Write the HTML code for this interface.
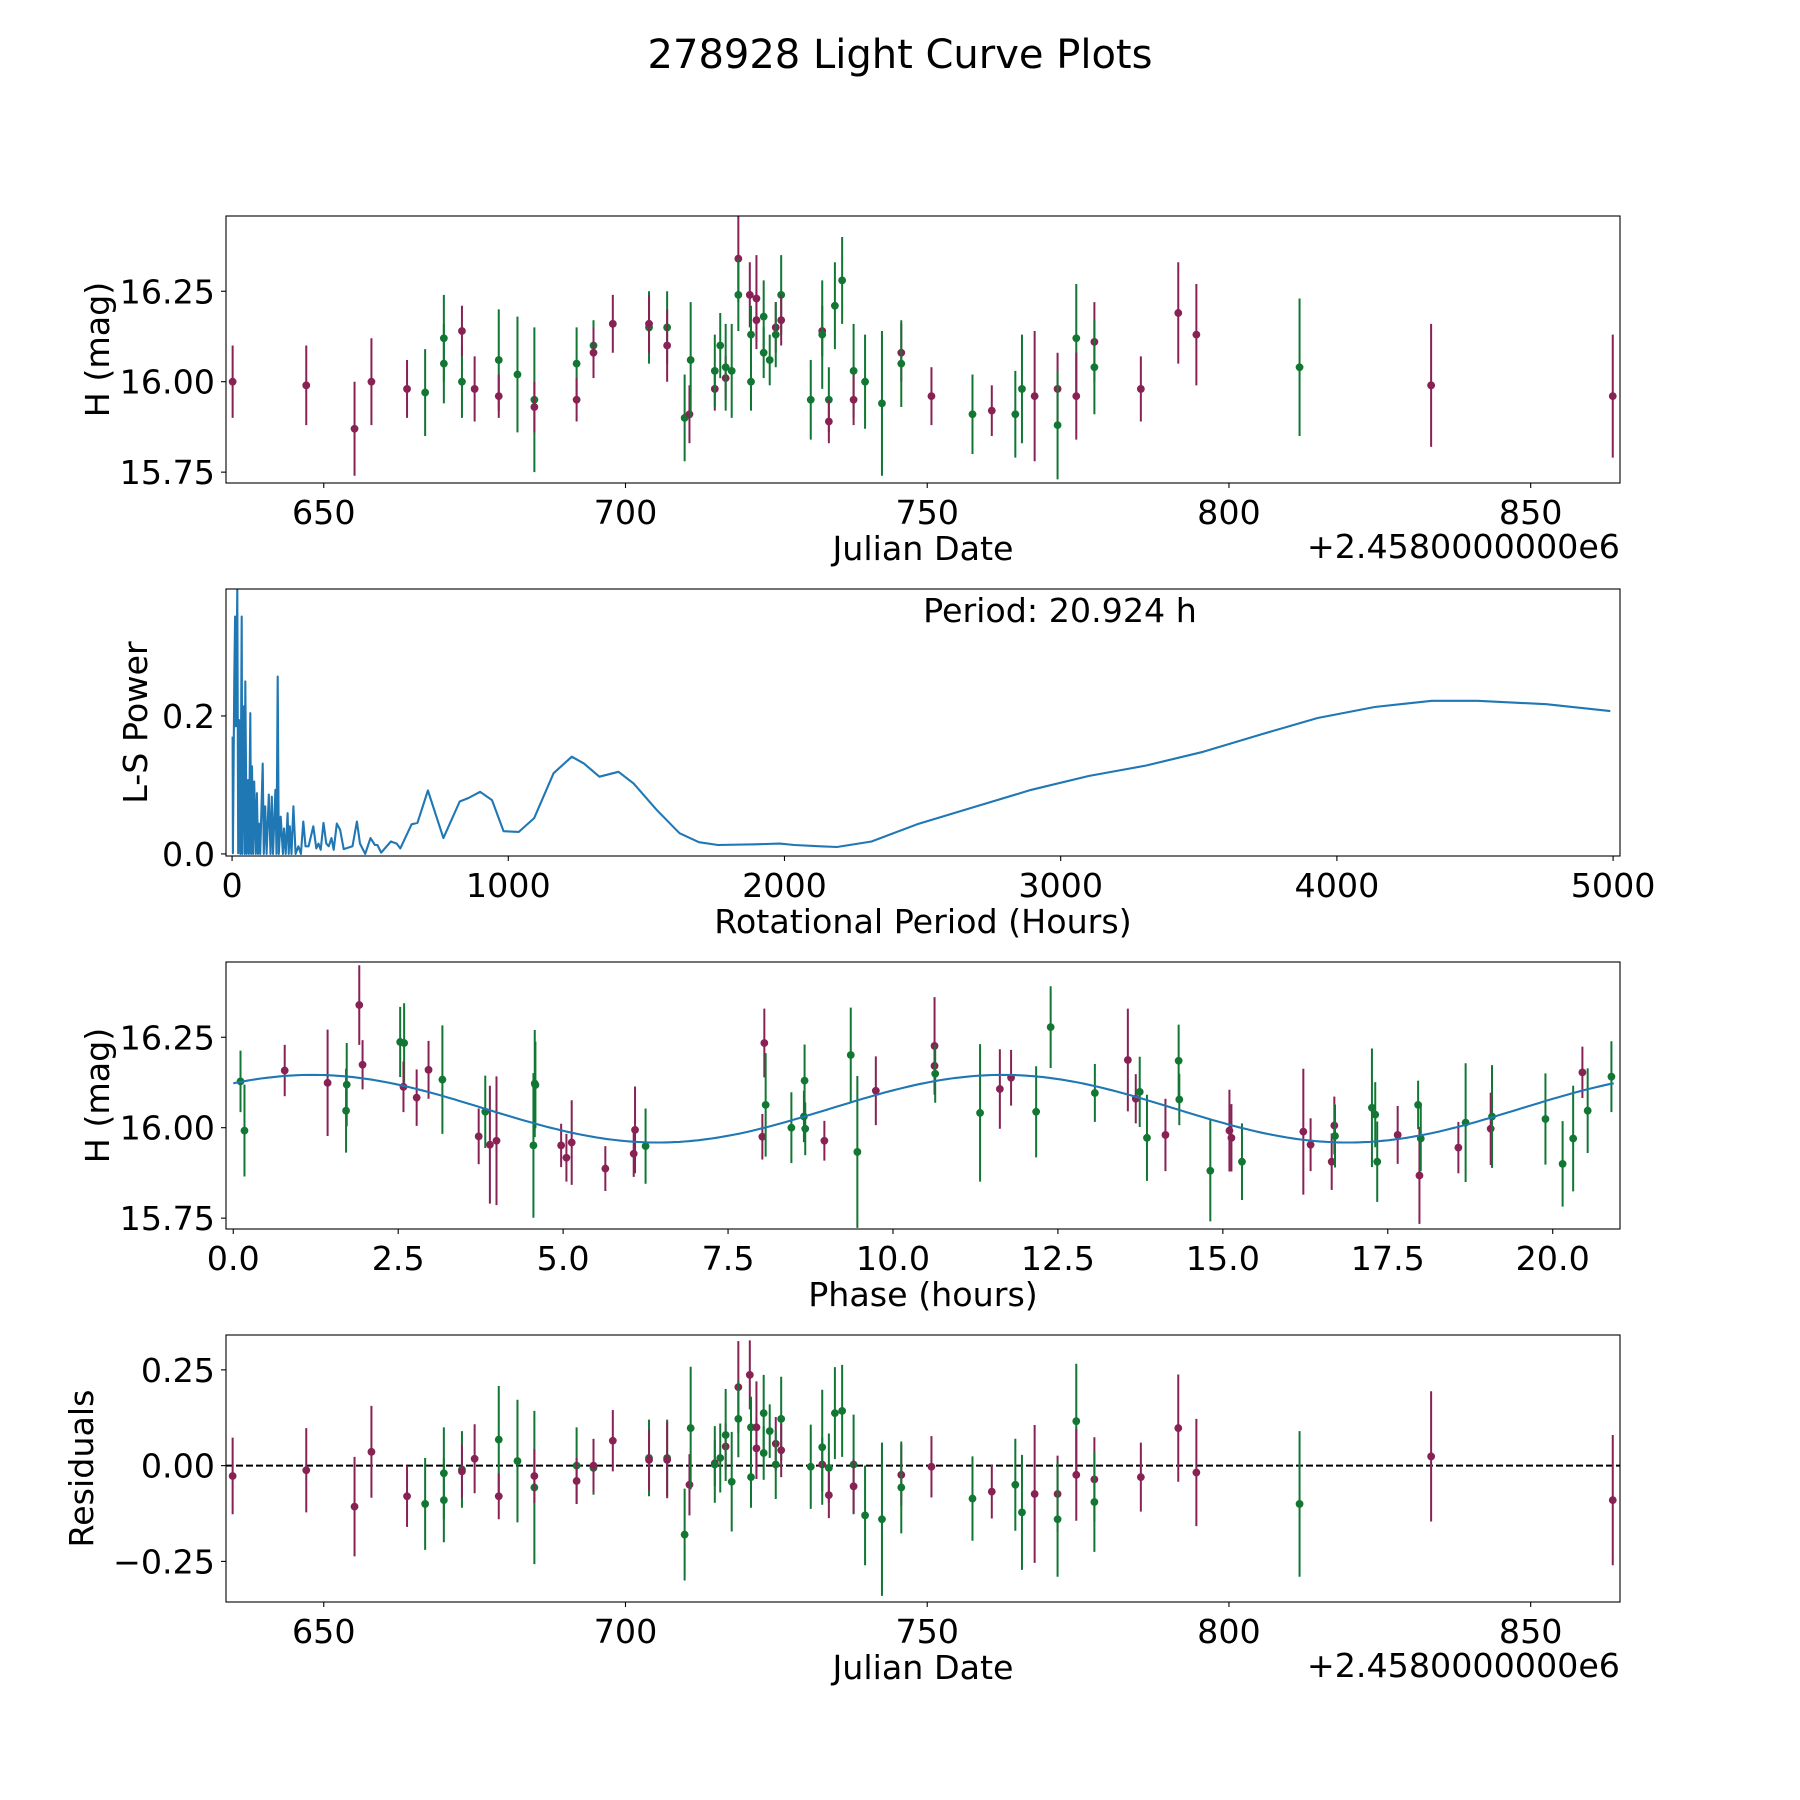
<!DOCTYPE html>
<html><head><meta charset="utf-8"><style>
html,body{margin:0;padding:0;background:#fff;}
svg{display:block;font-family:"DejaVu Sans","Liberation Sans",sans-serif;}
</style></head><body>
<svg id="fig" width="1800" height="1800" viewBox="0 0 1800 1800" xmlns="http://www.w3.org/2000/svg">
<rect width="1800" height="1800" fill="#fff"/>
<text x="900" y="68" font-size="40" text-anchor="middle">278928 Light Curve Plots</text>
</svg>
<script>
const jd=[634.9,647.1,655.1,657.9,663.8,666.8,669.9,669.9,672.9,672.9,675.0,679.0,679.0,682.1,684.9,684.9,691.9,691.9,694.7,694.7,697.9,703.9,703.9,706.9,706.9,709.8,710.6,710.8,714.8,714.8,715.7,716.6,716.6,717.6,718.7,718.7,720.6,720.8,720.8,721.7,721.7,722.9,722.9,723.9,724.9,724.9,725.8,725.8,730.7,732.6,732.6,733.7,733.7,734.7,735.9,737.8,737.8,739.7,742.5,745.7,745.7,750.7,757.5,760.7,764.6,765.7,767.8,771.6,771.6,774.7,774.7,777.7,777.7,785.4,791.6,794.6,811.7,833.5,863.6];
const mag=[16.00,15.99,15.87,16.00,15.98,15.97,16.12,16.05,16.00,16.14,15.98,16.06,15.96,16.02,15.95,15.93,16.05,15.95,16.10,16.08,16.16,16.15,16.16,16.15,16.10,15.90,15.91,16.06,15.98,16.03,16.10,16.01,16.04,16.03,16.34,16.24,16.24,16.13,16.00,16.23,16.17,16.18,16.08,16.06,16.15,16.13,16.24,16.17,15.95,16.14,16.13,15.95,15.89,16.21,16.28,16.03,15.95,16.00,15.94,16.08,16.05,15.96,15.91,15.92,15.91,15.98,15.96,15.98,15.88,16.12,15.96,16.11,16.04,15.98,16.19,16.13,16.04,15.99,15.96];
const magErr=[0.10,0.11,0.13,0.12,0.08,0.12,0.12,0.11,0.10,0.07,0.09,0.14,0.06,0.16,0.20,0.07,0.10,0.06,0.07,0.07,0.08,0.10,0.08,0.10,0.10,0.12,0.08,0.16,0.06,0.10,0.09,0.06,0.12,0.13,0.12,0.10,0.09,0.08,0.08,0.12,0.08,0.10,0.07,0.07,0.07,0.09,0.11,0.07,0.11,0.07,0.15,0.09,0.06,0.12,0.12,0.13,0.07,0.13,0.20,0.08,0.12,0.08,0.11,0.07,0.12,0.15,0.18,0.10,0.15,0.15,0.12,0.11,0.13,0.09,0.14,0.14,0.19,0.17,0.17];
const band=[0,0,0,0,0,1,1,1,1,0,0,1,0,1,1,0,1,0,1,0,0,1,0,1,0,1,0,1,0,1,1,0,1,1,0,1,0,1,1,0,0,1,1,1,0,1,1,0,1,0,1,1,0,1,1,1,0,1,1,0,1,0,1,0,1,1,0,0,1,1,0,0,1,0,0,0,1,0,0];
const resid=[-0.027,-0.012,-0.107,0.036,-0.08,-0.10,-0.02,-0.09,-0.01,-0.015,0.018,0.068,-0.08,0.012,-0.057,-0.027,0.0,-0.04,-0.006,0.0,0.065,0.02,0.015,0.02,0.015,-0.18,-0.05,0.098,0.006,0.003,0.02,0.05,0.08,-0.042,0.205,0.122,0.237,0.10,-0.03,0.10,0.045,0.137,0.033,0.09,0.057,0.003,0.122,0.04,-0.003,0.003,0.048,-0.006,-0.077,0.137,0.143,0.003,-0.054,-0.13,-0.14,-0.024,-0.057,-0.003,-0.086,-0.068,-0.05,-0.122,-0.074,-0.074,-0.14,0.116,-0.024,-0.036,-0.095,-0.03,0.098,-0.018,-0.10,0.024,-0.09];
const phase=[0.11,0.17,0.78,1.43,1.72,1.71,1.91,1.96,2.53,2.59,2.58,2.78,2.96,3.17,3.72,3.82,3.89,3.99,4.57,4.58,4.55,4.97,5.05,5.13,5.64,6.07,6.09,6.25,8.02,8.05,8.07,8.46,8.65,8.66,8.67,8.96,9.36,9.46,9.74,10.63,10.63,10.64,11.32,11.62,11.79,12.17,12.39,13.06,13.56,13.68,13.74,13.85,14.13,14.33,14.34,14.81,15.10,15.13,15.29,16.22,16.33,16.65,16.69,16.70,17.26,17.31,17.34,17.65,17.96,17.98,18.00,18.57,18.68,19.06,19.08,19.89,20.15,20.31,20.45,20.53,20.89];
const phaseMag=[16.128,15.992,16.158,16.124,16.119,16.047,16.339,16.174,16.237,16.234,16.113,16.083,16.160,16.133,15.976,16.044,15.953,15.964,16.122,16.118,15.951,15.951,15.917,15.959,15.887,15.928,15.994,15.949,15.975,16.234,16.063,16.000,16.031,16.130,15.997,15.964,16.201,15.933,16.102,16.226,16.171,16.149,16.041,16.107,16.138,16.044,16.278,16.096,16.187,16.080,16.099,15.972,15.980,16.185,16.078,15.881,15.992,15.972,15.906,15.989,15.953,15.906,16.006,15.977,16.055,16.036,15.906,15.980,16.063,15.868,15.970,15.945,16.014,15.997,16.031,16.024,15.900,15.970,16.153,16.047,16.141];
const phaseErr=[0.085,0.127,0.071,0.147,0.115,0.116,0.11,0.068,0.097,0.11,0.07,0.078,0.08,0.15,0.077,0.1,0.163,0.178,0.148,0.12,0.2,0.06,0.066,0.117,0.062,0.064,0.12,0.104,0.063,0.095,0.143,0.098,0.071,0.1,0.073,0.055,0.131,0.21,0.095,0.135,0.07,0.08,0.19,0.11,0.077,0.126,0.113,0.08,0.142,0.068,0.097,0.119,0.1,0.1,0.071,0.14,0.113,0.093,0.106,0.174,0.073,0.078,0.08,0.087,0.164,0.09,0.111,0.08,0.067,0.134,0.09,0.071,0.164,0.1,0.142,0.126,0.118,0.146,0.071,0.117,0.098];
const phaseBand=[1,1,0,0,1,1,0,0,1,1,0,0,0,1,0,1,0,0,1,1,1,0,0,0,0,0,0,1,0,0,1,1,1,1,1,0,1,1,0,0,0,1,1,0,0,1,1,1,0,0,1,1,0,1,1,1,0,0,1,0,0,0,0,1,1,1,1,0,1,0,1,0,1,0,1,1,1,1,0,1,1];
const modelParams=[16.0525,0.0935,1.2,20.924];
const lsPeriod=[2,3,8,11,14,19,22,25,30,35,37,42,46,48,53,58,61,66,69,72,76,80,86,90,94,97,102,111,115,120,125,133,139,144,148,157,161,165,169,176,184,188,194,201,205,209,215,222,230,240,249,258,266,277,294,305,313,321,331,341,350,360,368,379,391,404,436,452,463,482,501,517,526,540,575,596,609,650,671,709,765,824,856,898,941,983,1038,1094,1164,1230,1274,1330,1399,1454,1537,1620,1690,1759,1897,1983,2036,2130,2190,2315,2480,2687,2894,3101,3308,3516,3723,3930,4137,4344,4509,4758,4990];
const lsPower=[0.170,0.001,0.257,0.344,0.185,0.383,0.001,0.194,0,0.344,0,0.214,0,0.25,0,0.107,0,0.204,0,0.127,0,0.105,0,0.088,0,0.044,0,0.131,0,0.069,0,0.086,0,0.083,0,0.093,0,0.257,0,0.054,0,0.037,0,0.059,0,0.040,0,0.069,0,0.011,0,0.047,0.011,0.011,0.040,0.008,0.015,0.006,0.045,0.015,0.011,0.023,0.006,0.044,0.035,0.007,0.011,0.047,0.015,0,0.023,0.013,0.013,0.002,0.018,0.015,0.008,0.043,0.045,0.092,0.023,0.076,0.081,0.090,0.078,0.033,0.032,0.052,0.117,0.141,0.131,0.112,0.119,0.102,0.064,0.030,0.017,0.013,0.014,0.015,0.013,0.011,0.010,0.018,0.043,0.068,0.093,0.113,0.128,0.148,0.173,0.197,0.213,0.222,0.222,0.217,0.207];
const jdTicks=[650,700,750,800,850];
const magTicks=[15.75,16.00,16.25];
const magTickLabels=["15.75","16.00","16.25"];
const lsXTicks=[0,1000,2000,3000,4000,5000];
const lsYTicks=[0.0,0.2];
const lsYTickLabels=["0.0","0.2"];
const phaseTicks=[0,2.5,5,7.5,10,12.5,15,17.5,20];
const phaseTickLabels=["0.0","2.5","5.0","7.5","10.0","12.5","15.0","17.5","20.0"];
const residTicks=[-0.25,0,0.25];
const residTickLabels=["\u22120.25","0.00","0.25"];

const NS="http://www.w3.org/2000/svg";
const svg=document.getElementById('fig');
const COL=['#882255','#117733'];
const FS=33.3;
function mk(tag,attrs,parent){const e=document.createElementNS(NS,tag);for(const k in attrs)e.setAttribute(k,attrs[k]);(parent||svg).appendChild(e);return e;}
const L=226,R=1620;
function scale(d0,d1,p0,p1){return v=>p0+(v-d0)*(p1-p0)/(d1-d0);}
function axes(name,top,bot,xs,ys,xt,xtl,yt,ytl,xlabel,ylabel,ylabelX){
  const g=mk('g',{});
  
  
  xt.forEach((v,i)=>{const x=xs(v);
    const t=mk('line',{x1:x,x2:x,y1:bot,y2:bot+5,stroke:'#000','stroke-width':1.1},g);
    
    const tx=mk('text',{x:x,y:bot+41,'font-size':FS,'text-anchor':'middle'},g);tx.textContent=xtl[i];
    });
  yt.forEach((v,i)=>{const y=ys(v);
    const t=mk('line',{x1:L-5,x2:L,y1:y,y2:y,stroke:'#000','stroke-width':1.1},g);
    
    const tx=mk('text',{x:L-11,y:y+12,'font-size':FS,'text-anchor':'end'},g);tx.textContent=ytl[i];
    });
  const xl=mk('text',{x:923,y:bot+77,'font-size':FS,'text-anchor':'middle'},g);xl.textContent=xlabel;
  
  const cy=(top+bot)/2;
  const yl=mk('text',{x:ylabelX,y:cy,'font-size':FS,'text-anchor':'middle',transform:`rotate(-90 ${ylabelX} ${cy})`},g);yl.textContent=ylabel;
  
  return g;
}
function frame(top,bot){const f=mk('rect',{x:L,y:top,width:R-L,height:bot-top,fill:'none',stroke:'#000','stroke-width':1.1});
  }
function clip(id,top,bot){const c=mk('clipPath',{id:id});mk('rect',{x:L,y:top,width:R-L,height:bot-top},c);}
function errPoints(gname,xs,ys,X,Y,E,B,clipId){
  const g=mk('g',{'clip-path':`url(#${clipId})`});
  
  X.forEach((xv,i)=>{const x=xs(xv),c=COL[B[i]];
    const ln=mk('line',{x1:x,x2:x,y1:ys(Y[i]-E[i]),y2:ys(Y[i]+E[i]),stroke:c,'stroke-width':2},g);
    
    const d=mk('circle',{cx:x,cy:ys(Y[i]),r:3.9,fill:c},g);
    });
}
const jdX=scale(633.8,864.8,L,R);

const t1=216,b1=483,y1=scale(15.72,16.458,b1,t1);
clip('c1',t1,b1);
axes('light-curve-axes',t1,b1,jdX,y1,jdTicks,jdTicks.map(String),magTicks,magTickLabels,'Julian Date','H (mag)',109);
errPoints('light-curve-points',jdX,y1,jd,mag,magErr,band,'c1');
frame(t1,b1);
const off1=mk('text',{x:R,y:b1+75,'font-size':FS,'text-anchor':'end'});off1.textContent='+2.4580000000e6';


const t2=589,b2=856,lx=scale(-22,5025,L,R),ly=scale(-0.003,0.384,b2,t2);
clip('c2',t2,b2);
axes('periodogram-axes',t2,b2,lx,ly,lsXTicks,lsXTicks.map(String),lsYTicks,lsYTickLabels,'Rotational Period (Hours)','L-S Power',147);
const lsPath=mk('path',{d:lsPeriod.map((p,i)=>(i?'L':'M')+lx(p).toFixed(1)+' '+ly(lsPower[i]).toFixed(1)).join(' '),fill:'none',stroke:'#1f77b4','stroke-width':2.1,'stroke-linejoin':'round','clip-path':'url(#c2)'});

frame(t2,b2);
const per=mk('text',{x:1060,y:622,'font-size':FS,'text-anchor':'middle'});per.textContent='Period: 20.924 h';


const t3=962,b3=1229,px=scale(-0.11,21.02,L,R),py=scale(15.72,16.458,b3,t3);
clip('c3',t3,b3);
axes('phase-axes',t3,b3,px,py,phaseTicks,phaseTickLabels,magTicks,magTickLabels,'Phase (hours)','H (mag)',109);
errPoints('phase-points',px,py,phase,phaseMag,phaseErr,phaseBand,'c3');
{const [m0,amp,pk,P]=modelParams;let d='';
 for(let k=0;k<=300;k++){const ph=P*k/300;const v=m0+amp*Math.cos(4*Math.PI*(ph-pk)/P);d+=(k?'L':'M')+px(ph).toFixed(1)+' '+py(v).toFixed(1);}
 const c=mk('path',{d:d,fill:'none',stroke:'#1f77b4','stroke-width':2.1,'clip-path':'url(#c3)'});
 }
frame(t3,b3);

const t4=1335,b4=1602,ry=scale(-0.356,0.341,b4,t4);
clip('c4',t4,b4);
axes('residuals-axes',t4,b4,jdX,ry,jdTicks,jdTicks.map(String),residTicks,residTickLabels,'Julian Date','Residuals',93);
const zl=mk('line',{x1:L,x2:R,y1:ry(0),y2:ry(0),stroke:'#000','stroke-width':2,'stroke-dasharray':'7,3'});

errPoints('residual-points',jdX,ry,jd,resid,magErr,band,'c4');
frame(t4,b4);
const off4=mk('text',{x:R,y:b4+75,'font-size':FS,'text-anchor':'end'});off4.textContent='+2.4580000000e6';

</script>
</body></html>
